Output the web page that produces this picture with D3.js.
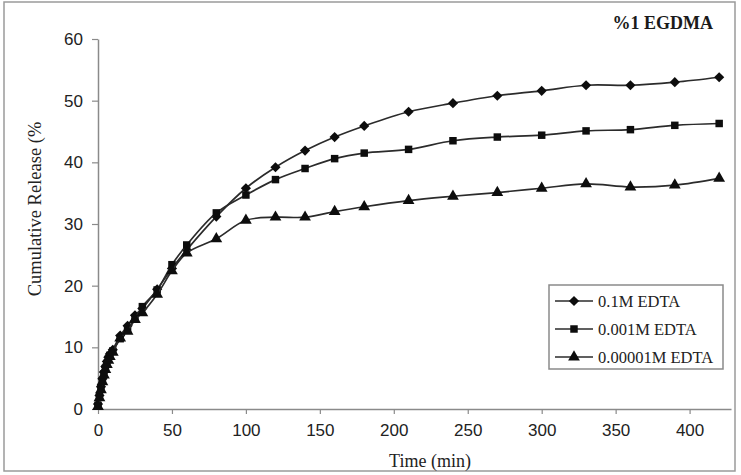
<!DOCTYPE html>
<html>
<head>
<meta charset="utf-8">
<script src="https://cdn.jsdelivr.net/npm/d3@7"></script>
<style>
  html, body { margin: 0; padding: 0; background: #fff; }
  svg { display: block; }
</style>
</head>
<body>
<div id="chart"></div>
<script>
// ---- data ----
const times = [0, 1, 2, 3, 4, 5, 6, 7, 8, 10, 15, 20, 25, 30, 40, 50, 60, 80,
  100, 120, 140, 160, 180, 210, 240, 270, 300, 330, 360, 390, 420];

const edta01 = [0.8, 2.2, 3.6, 4.9, 6.0, 6.9, 7.7, 8.4, 8.9, 9.6, 11.9, 13.5, 15.2, 16.3, 19.4, 22.8, 25.8, 31.2,
  35.8, 39.2, 41.9, 44.1, 45.9, 48.2, 49.6, 50.8, 51.6, 52.5, 52.5, 53.0, 53.8];
const edta0001 = [0.6, 2.0, 3.3, 4.6, 5.7, 6.6, 7.4, 8.1, 8.7, 9.4, 11.4, 13.0, 14.6, 16.6, 19.3, 23.4, 26.6, 31.8,
  34.7, 37.2, 39.0, 40.6, 41.5, 42.1, 43.5, 44.1, 44.4, 45.1, 45.3, 46.0, 46.3];
const edta000001 = [0.4, 1.8, 3.1, 4.4, 5.5, 6.4, 7.2, 7.9, 8.5, 9.2, 11.5, 12.6, 14.5, 15.6, 18.6, 22.4, 25.3, 27.6,
  30.6, 31.1, 31.1, 32.0, 32.8, 33.8, 34.5, 35.1, 35.8, 36.5, 36.0, 36.3, 37.4];

const seriesNames = ["0.1M EDTA", "0.001M EDTA", "0.00001M EDTA"];
const seriesValues = [edta01, edta0001, edta000001];
// diamond = square turned 45°
const markers = [d3.symbolSquare, d3.symbolSquare, d3.symbolTriangle];
const markerSizes = [52, 56, 60];
const markerTurn = [45, 0, 0];

const xTicks = [0, 50, 100, 150, 200, 250, 300, 350, 400];
const yTicks = [0, 10, 20, 30, 40, 50, 60];

// ---- layout ----
const W = 741, H = 475;
const serif = "'Liberation Serif', 'Times New Roman', serif";
const sans = "'Liberation Sans', Arial, sans-serif";

const svg = d3.select("#chart").append("svg")
  .attr("width", W).attr("height", H);

// outer chart border
svg.append("rect")
  .attr("x", 4).attr("y", 2).attr("width", 731).attr("height", 469)
  .attr("fill", "#fff").attr("stroke", "#9a9a9a").attr("stroke-width", 1.5);

const x = d3.scaleLinear().domain([0, 428]).range([98, 731]);
const y = d3.scaleLinear().domain([0, 60]).range([409, 39]);

// axes
const xAxis = svg.append("g")
  .attr("transform", `translate(0,${y(0)})`)
  .call(d3.axisBottom(x).tickValues(xTicks).tickSize(5).tickPadding(8).tickSizeOuter(0));
const yAxis = svg.append("g")
  .attr("transform", `translate(${x(0)},0)`)
  .call(d3.axisLeft(y).tickValues(yTicks).tickSize(6).tickPadding(9).tickSizeOuter(0));

[xAxis, yAxis].forEach(g => {
  g.select(".domain").attr("stroke", "#8a8a8a").attr("stroke-width", 1.5);
  g.selectAll(".tick line").attr("stroke", "#8a8a8a").attr("stroke-width", 1.2);
  g.selectAll(".tick text")
    .attr("fill", "#222")
    .style("font-family", sans)
    .style("font-size", "17px");
});
xAxis.selectAll(".tick text").attr("dy", "0.8em");

// axis titles
svg.append("text")
  .attr("x", 430).attr("y", 467)
  .attr("text-anchor", "middle")
  .style("font-family", serif).style("font-size", "18px")
  .attr("fill", "#222")
  .text("Time (min)");

svg.append("text")
  .attr("transform", "translate(41,209) rotate(-90)")
  .attr("text-anchor", "middle")
  .style("font-family", serif).style("font-size", "18.5px")
  .attr("fill", "#222")
  .text("Cumulative Release (%");

svg.append("text")
  .attr("x", 713).attr("y", 29)
  .attr("text-anchor", "end")
  .style("font-family", serif).style("font-size", "18px").style("font-weight", "bold")
  .attr("fill", "#1a1a1a")
  .text("%1 EGDMA");

// lines + markers
const line = d3.line()
  .x(d => x(d[0]))
  .y(d => y(d[1]))
  .curve(d3.curveCatmullRom.alpha(0.5));

seriesValues.forEach((vals, i) => {
  const pts = times.map((t, j) => [t, vals[j]]);
  svg.append("path")
    .datum(pts)
    .attr("fill", "none")
    .attr("stroke", "#2b2b2b")
    .attr("stroke-width", 1.7)
    .attr("d", line);

  svg.append("g").selectAll("path")
    .data(pts)
    .join("path")
    .attr("transform", d => `translate(${x(d[0])},${y(d[1])}) rotate(${markerTurn[i]})`)
    .attr("d", d3.symbol().type(markers[i]).size(markerSizes[i]))
    .attr("fill", "#0d0d0d");
});

// legend
const legend = svg.append("g");
legend.append("rect")
  .attr("x", 549).attr("y", 285).attr("width", 174).attr("height", 84)
  .attr("fill", "#fff").attr("stroke", "#8a8a8a").attr("stroke-width", 1.5);

seriesNames.forEach((name, i) => {
  const ly = 301 + i * 28;
  legend.append("line")
    .attr("x1", 555).attr("x2", 593).attr("y1", ly).attr("y2", ly)
    .attr("stroke", "#2b2b2b").attr("stroke-width", 1.7);
  legend.append("path")
    .attr("transform", `translate(574,${ly}) rotate(${markerTurn[i]})`)
    .attr("d", d3.symbol().type(markers[i]).size(markerSizes[i]))
    .attr("fill", "#0d0d0d");
  legend.append("text")
    .attr("x", 598).attr("y", ly).attr("dy", "0.35em")
    .style("font-family", serif).style("font-size", "16.5px")
    .attr("fill", "#222")
    .text(name);
});
</script>
</body>
</html>
